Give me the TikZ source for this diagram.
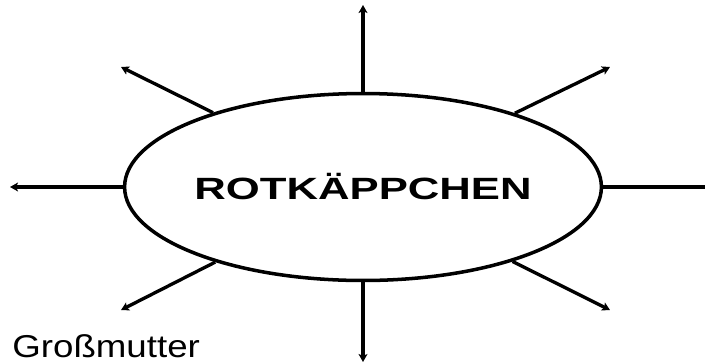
\documentclass[tikz,border=0pt]{standalone}
\usepackage{fontspec}
\setmainfont{Liberation Sans}
\usetikzlibrary{arrows.meta,shapes.geometric}

\begin{document}
\begin{tikzpicture}[x=0.02cm,y=0.02cm]
        \useasboundingbox (0,0) rectangle (705,363);

        \node[ellipse, draw, line width=2pt, minimum width=9.4cm, minimum height=3.74cm, inner sep=0pt]
          (rk) at (363,176) {\raisebox{-3pt}{\scalebox{1.42}[1]{\fontsize{17.5pt}{20pt}\selectfont\bfseries ROTKÄPPCHEN}}};

        \coordinate (n)  at (363,358);
        \coordinate (s)  at (363,1);
        \coordinate (w)  at (10,176);
        \coordinate (e)  at (714,176);
        \coordinate (nw) at (121,296);
        \coordinate (ne) at (610,296);
        \coordinate (sw) at (121,53);
        \coordinate (se) at (610,53);

        \begin{scope}[every edge/.style={draw, line width=1.9pt, -{Stealth[length=4.5pt,width=5pt,inset=1pt]}}]
          \path (rk.north) edge (n);
          \path (rk.south) edge (s);
          \path (rk.west)  edge (w);
          \path (rk.east)  edge (e);
          \path (rk) edge (nw);
          \path (rk) edge (ne);
          \path (rk) edge (sw);
          \path (rk) edge (se);
        \end{scope}

        \node[anchor=base west, inner sep=0pt] (gm) at (12,6)
          {\scalebox{1.16}[1]{\fontsize{18pt}{20pt}\selectfont Großmutter}};

      \end{tikzpicture}
\end{document}
